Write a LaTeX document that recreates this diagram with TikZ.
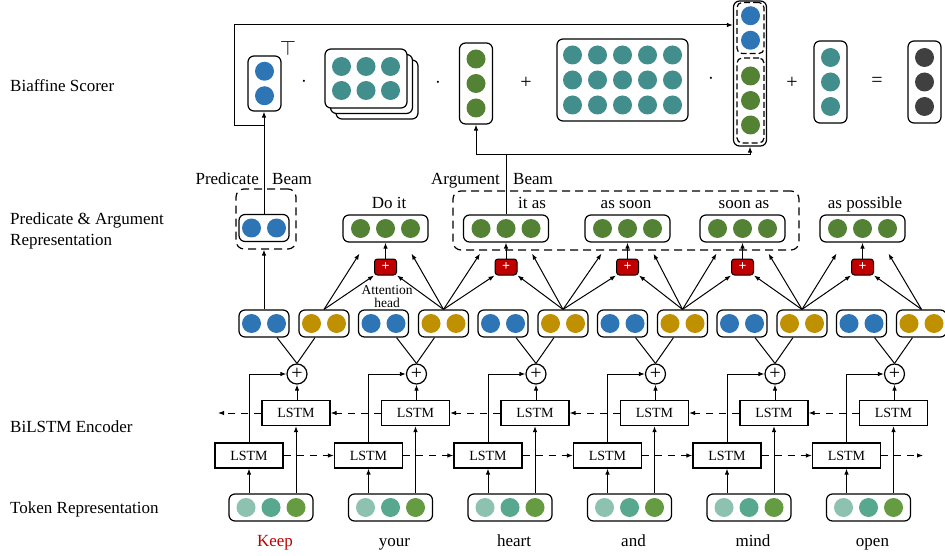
\documentclass[tikz,border=0pt]{standalone}
\usepackage{fontspec}
\setmainfont{Liberation Serif}
\usetikzlibrary{arrows.meta,calc}
\definecolor{predblue}{HTML}{2E75B6}
\definecolor{gold}{HTML}{BF9000}
\definecolor{spgreen}{HTML}{548235}
\definecolor{scteal}{HTML}{428E8C}
\definecolor{dgray}{HTML}{404040}
\definecolor{addred}{HTML}{C00000}
\definecolor{kred}{HTML}{C00000}
\definecolor{tokA}{HTML}{8CC2AF}
\definecolor{tokB}{HTML}{58A78F}
\definecolor{tokC}{HTML}{659C41}
\def\hballs#1#2#3{\foreach \k in {1,...,#3}{\fill[#2] ($(#1)+({(\k-(#3+1)/2)*25},0)$) circle (9.5pt);}}
\def\vballs#1#2#3{\foreach \k in {1,...,#3}{\fill[#2] ($(#1)+(0,{(\k-(#3+1)/2)*24.5})$) circle (9.5pt);}}

\begin{document}
\begin{tikzpicture}[x=1pt,y=-1pt,
	word/.style={inner sep=0pt,anchor=base,font=\fontsize{17}{20}\selectfont},
	lbl/.style={word,anchor=base west},
	small/.style={inner sep=0pt,anchor=base,font=\fontsize{13.5}{13.5}\selectfont},
	opr/.style={inner sep=0pt,font=\fontsize{20}{20}\selectfont},
	box/.style={draw,rounded corners=6pt,line width=1.2pt,inner sep=0pt},
	pairbox/.style={box,minimum width=50pt,minimum height=27pt},
	tribox/.style={box,minimum width=85pt,minimum height=27pt},
	tokbox/.style={box,minimum width=84pt,minimum height=27pt},
	colbox/.style={box,minimum width=33pt},
	matbox/.style={box,fill=white,minimum width=82pt,minimum height=59pt},
	lstm/.style={draw,line width=1.2pt,minimum width=68pt,minimum height=25pt,inner sep=0pt,font=\fontsize{14}{16}\selectfont},
	oplus/.style={draw,circle,line width=1.2pt,minimum size=20pt,inner sep=0pt,font=\fontsize{20}{20}\selectfont},
	plusbox/.style={draw,fill=addred,rounded corners=3pt,line width=1pt,minimum width=22pt,minimum height=16pt,inner sep=0pt,text=white,font=\bfseries\fontsize{14}{14}\selectfont},
	beam/.style={draw,dash pattern=on 8pt off 5pt,rounded corners=8pt,line width=1.2pt},
	inbeam/.style={beam,dash pattern=on 6pt off 3pt,rounded corners=5pt,minimum width=27pt},
	link/.style={line width=1pt},
	arr/.style={link,-{Latex[length=6pt,width=4.5pt]}},
	dsh/.style={arr,dash pattern=on 7pt off 6pt}]
	%%%%% START %%%%%
	\useasboundingbox (0,0) rectangle (945,556);
	
	\node[lbl] (l1) at (10,92) {Biaffine Scorer};
	\node[lbl] (l2) at (10,225) {Predicate \& Argument};
	\node[lbl] (l2b) at (10,245) {Representation};
	\node[lbl] (l3) at (10,432) {BiLSTM Encoder};
	\node[lbl] (l4) at (10,513) {Token Representation};
	
	% tokens, BiLSTM, head pairs
	\foreach \w [count=\i from 0] in {\textcolor{kred}{Keep},your,heart,and,mind,open}{
		\node[tokbox] (tok\i) at ({271+119.5*\i},507.5) {};
		\foreach \c [count=\k from -1] in {tokA,tokB,tokC}
			\fill[\c] ($(tok\i)+(25*\k,0)$) circle (9.5pt);
		\node[word] (w\i) at ({275+119.5*\i},546) {\w};
		\node[lstm] (fw\i) at ({249+119.5*\i},455.5) {LSTM};
		\node[lstm] (bw\i) at ({296+119.5*\i},413) {LSTM};
		\node[oplus] (op\i) at ({297+119.5*\i},374) {+};
		\node[pairbox] (bl\i) at ({264+119.5*\i},323.5) {};
		\hballs{bl\i}{predblue}{2}
		\node[pairbox] (ye\i) at ({324+119.5*\i},323.5) {};
		\hballs{ye\i}{gold}{2}
		\draw[arr] (tok\i.north -| fw\i) -- (fw\i);
		\draw[arr] (tok\i.north -| bw\i) -- (bw\i);
		\draw[arr] (fw\i.north) |- (op\i);
		\draw[arr] (bw\i.north -| op\i) -- (op\i);
		\draw[link] ($(bl\i.south)+(13,0)$) -- (op\i.north);
		\draw[link] ($(ye\i.south)+(-9,0)$) -- (op\i.north);
	}
	\foreach \i/\j in {0/1,1/2,2/3,3/4,4/5}{
		\draw[dsh] (fw\i) -- (fw\j);
		\draw[dsh] (bw\j) -- (bw\i);
	}
	\coordinate (bwend) at (218,413);
	\coordinate (fwend) at (923,455.5);
	\draw[dsh] (bw0) -- (bwend);
	\draw[dsh] (fw5) -- (fwend);
	
	% spans
	\foreach \g/\lab/\tx [count=\j from 0] in {385.5/Do it/389,506/it as/532,627.5/as soon/626,742.5/soon as/744,862.5/as possible/865}{
		\node[tribox] (sp\j) at (\g,228.5) {};
		\hballs{sp\j}{spgreen}{3}
		\node[word] (st\j) at (\tx,209) {\lab};
		\node[plusbox] (ad\j) at (\g,267) {+};
		\draw[arr] (ad\j) -- (sp\j);
	}
	\foreach \j/\k in {0/1,1/2,2/3,3/4,4/5}{
		\draw[arr] (ye\j.north) -- (ad\j.south west);
		\draw[arr] (ye\j.north) -- ($(sp\j.south)+(-26,11)$);
		\draw[arr] (ye\k.north) -- (ad\j.south east);
		\draw[arr] (ye\k.north) -- ($(sp\j.south)+(26,11)$);
	}
	\node[small] (att) at (387,294) {Attention};
	\node[small] (hd) at (387,307.5) {head};
	
	% beams
	\node[beam,minimum width=60pt,minimum height=60pt] (pbeam) at (266,219) {};
	\node[beam,minimum width=346pt,minimum height=59pt] (abeam) at (626,220.5) {};
	\node[pairbox] (pred) at (264,228) {};
	\hballs{pred}{predblue}{2}
	\draw[arr] (bl0.north) -- (bl0.north |- pbeam.south);
	\node[word,anchor=base east] (plab) at (259,185) {Predicate};
	\node[word,anchor=base west] (pbm) at (272,185) {Beam};
	\node[word,anchor=base east] (alab) at (500,185) {Argument};
	\node[word,anchor=base west] (abm) at (513,185) {Beam};
	
	% biaffine scorer
	\node[colbox,minimum height=55pt] (pcol) at (264.5,83.5) {};
	\vballs{pcol}{predblue}{2}
	\node[inner sep=0pt,font=\fontsize{20}{20}\selectfont] (tr) at (288,48) {$\top$};
	\node[opr] (mul1) at (304,82) {$\cdot$};
	\node[matbox] (sm3) at (377,89.5) {};
	\node[matbox] (sm2) at (371.5,84) {};
	\node[matbox] (sm1) at (366,78.5) {};
	\foreach \r in {-0.5,0.5} \foreach \c in {-1,0,1}
		\fill[scteal] ($(sm1)+(24.5*\c,24*\r)$) circle (9.5pt);
	\node[opr] (mul2) at (438,83) {$\cdot$};
	\node[colbox,minimum height=81pt] (gcol) at (476,83.5) {};
	\vballs{gcol}{spgreen}{3}
	\node[opr] (add1) at (526,83) {+};
	\node[box,minimum width=131pt,minimum height=82pt] (bigm) at (622.5,80) {};
	\foreach \r in {-1,0,1} \foreach \c in {-2,...,2}
		\fill[scteal] ($(bigm)+(25*\c,25*\r)$) circle (9.5pt);
	\node[opr] (mul3) at (711,79) {$\cdot$};
	\node[colbox,minimum height=145pt] (tall) at (750,73.5) {};
	\node[inbeam,minimum height=51pt] (tb) at (750.5,28) {};
	\node[inbeam,minimum height=85pt] (tg) at (750.5,100.5) {};
	\vballs{tb}{predblue}{2}
	\vballs{tg}{spgreen}{3}
	\node[opr] (add2) at (792,83) {+};
	\node[colbox,minimum height=82pt] (tcol) at (830.5,82) {};
	\vballs{tcol}{scteal}{3}
	\node[opr] (eq) at (877,82) {=};
	\node[colbox,minimum height=82pt] (dcol) at (924.5,82) {};
	\vballs{dcol}{dgray}{3}
	
	\coordinate (pj) at (264,126);
	\coordinate (pc) at (234,25);
	\draw[arr] (pred.north) -- (pred.north |- pcol.south);
	\draw[arr] (pj) -| (pc) -- (pc -| tall.west);
	\coordinate (aj) at (506,155);
	\draw[link] (sp1.north) -- (aj);
	\draw[arr] (aj) -| (gcol.south);
	\draw[arr] (aj) -| (tall.south);
	%%%%% END %%%%%
\end{tikzpicture}
\end{document}
